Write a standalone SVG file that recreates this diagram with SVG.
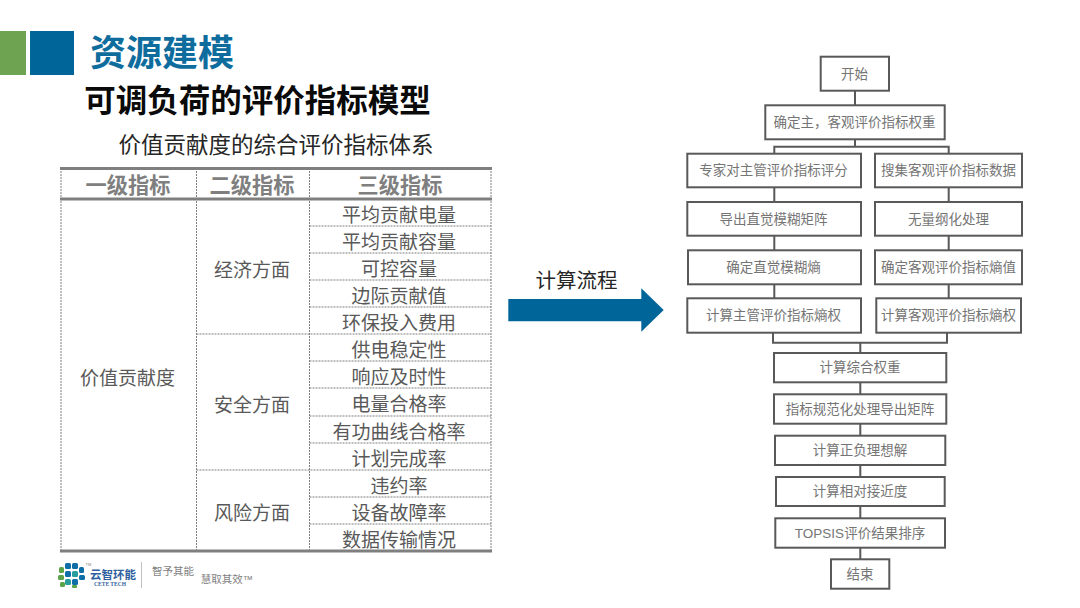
<svg xmlns="http://www.w3.org/2000/svg" width="1080" height="608" viewBox="0 0 1080 608">
<style>
text{font-family:"Liberation Sans","Noto Sans CJK SC",sans-serif;text-anchor:middle;dominant-baseline:central}
.b{fill:#fff;stroke:#595959;stroke-width:2}
.f{font-size:13.5px;fill:#757575}
.c{fill:none;stroke:#595959;stroke-width:2}
.d{fill:none;stroke:#7f7f7f;stroke-width:1;stroke-dasharray:2 1}
.t{fill:none;stroke:#7f7f7f;stroke-width:3}
.h{font-size:21.2px;font-weight:700;fill:#7f7f7f}
.r{font-size:19px;fill:#595959}
.k{fill:#0f6da8}.g{fill:#5aa348}.q{fill:#2a9d9d}
</style>
<rect width="1080" height="608" fill="#fff"/>
<g id="header">
<rect x="0" y="31" width="26" height="44" fill="#6ea351"/>
<rect x="30" y="31" width="44" height="44" fill="#006699"/>
<text x="162" y="53.500" font-size="36" font-weight="700" fill="#0f6d9e">资源建模</text>
<text x="257.500" y="100.500" font-size="31.500" font-weight="700" fill="#0a0a0a">可调负荷的评价指标模型</text>
<text x="276" y="145.500" font-size="22.500" fill="#262626">价值贡献度的综合评价指标体系</text>
</g>
<g id="table">
<path class="d" d="M61 168V551M196.500 168V551M309.500 168V551M491 168V551"/>
<path class="d" d="M309.500 226H491M309.500 253H491M309.500 280H491M309.500 307H491M196.500 334H491M309.500 361H491M309.500 388H491M309.500 416H491M309.500 443H491M196.500 470H491M309.500 497H491M309.500 524H491"/>
<path class="t" d="M60 168.500H492M60 199H492M60 551H492"/>
<text class="h" x="128" y="185.500">一级指标</text>
<text class="h" x="252" y="185.500">二级指标</text>
<text class="h" x="400" y="185.500">三级指标</text>
<text class="r" x="127.500" y="378">价值贡献度</text>
<text class="r" x="252" y="270">经济方面</text>
<text class="r" x="252" y="405">安全方面</text>
<text class="r" x="252" y="513">风险方面</text>
<text class="r" x="399" y="215">平均贡献电量</text>
<text class="r" x="399" y="242">平均贡献容量</text>
<text class="r" x="399" y="269">可控容量</text>
<text class="r" x="399" y="296">边际贡献值</text>
<text class="r" x="399" y="323">环保投入费用</text>
<text class="r" x="399" y="350">供电稳定性</text>
<text class="r" x="399" y="377">响应及时性</text>
<text class="r" x="399" y="404">电量合格率</text>
<text class="r" x="399" y="432">有功曲线合格率</text>
<text class="r" x="399" y="459">计划完成率</text>
<text class="r" x="399" y="486">违约率</text>
<text class="r" x="399" y="513">设备故障率</text>
<text class="r" x="399" y="540">数据传输情况</text>
</g>
<g id="logo">
<rect class="k" x="65" y="563" width="6" height="6" rx="1.500"/><rect class="k" x="72" y="563" width="6" height="6" rx="1.500"/>
<rect class="g" x="59" y="567" width="5" height="6" rx="1.500"/><rect class="k" x="79" y="567" width="5" height="6" rx="1.500"/>
<rect class="k" x="65" y="571" width="6" height="6" rx="1.500"/><rect class="q" x="72" y="571" width="6" height="6" rx="1.500"/>
<rect class="g" x="58" y="575" width="6" height="5" rx="1.500"/><rect class="k" x="79" y="575" width="6" height="5" rx="1.500"/>
<rect class="q" x="65" y="579" width="6" height="6" rx="1.500"/><rect class="k" x="72" y="579" width="6" height="6" rx="1.500"/>
<rect class="g" x="60" y="582" width="5" height="5" rx="1.500"/><rect class="g" x="72" y="585" width="5" height="3" rx="1"/>
<text x="113" y="574.500" font-size="11.500" font-weight="700" fill="#2f5f9e">云智环能</text>
<text x="110" y="584" font-size="5.500" font-weight="700" fill="#2f5f9e" style="font-family:'Liberation Serif',serif">CETE TECH</text>
<text x="88.500" y="564" font-size="4" fill="#7f7f7f">TM</text>
<path d="M141.500 562V588" stroke="#bfbfbf" fill="none"/>
<text x="173" y="570.500" font-size="10.500" fill="#7f7f7f">智予其能</text>
<text x="227" y="579" font-size="10.500" fill="#7f7f7f">慧取其效™</text>
</g>
<g id="arrow">
<text x="576.500" y="280" font-size="20.500" fill="#262626">计算流程</text>
<path d="M508.300 299H641.300V288.300L663.700 310L641.300 331.700V321.300H508.300Z" fill="#006699"/>
</g>
<g id="connectors">
<path class="c" d="M855 90.700V105.300M855 139.300V146.700M774.300 153.700V146.700H948.700V153.700"/>
<path class="c" d="M774.300 187.300V202M774.300 235.700V250.300M774.300 284.300V298.300M948.700 187.300V202M948.700 235.700V250.300M948.700 284.300V298.300"/>
<path class="c" d="M773 332.700V342.700H947V332.700M860.300 342.700V353M860.300 382.300V394.300M860.300 423.700V435.700M860.300 465V477M860.300 506V518.300M860.300 547.700V559.300"/>
</g>
<g id="n1"><rect class="b" x="820.700" y="56.700" width="68.300" height="34"/><text class="f" x="854.500" y="74">开始</text></g>
<g id="n2"><rect class="b" x="765.300" y="105.300" width="179.400" height="34"/><text class="f" x="854.500" y="122">确定主，客观评价指标权重</text></g>
<g id="n3"><rect class="b" x="687.300" y="153.700" width="173.700" height="33.600"/><text class="f" x="773.500" y="170.500">专家对主管评价指标评分</text></g>
<g id="n4"><rect class="b" x="875" y="153.700" width="147" height="33.600"/><text class="f" x="948.500" y="170.500">搜集客观评价指标数据</text></g>
<g id="n5"><rect class="b" x="687.300" y="202" width="173.700" height="33.700"/><text class="f" x="773.500" y="219">导出直觉模糊矩阵</text></g>
<g id="n6"><rect class="b" x="875" y="202" width="147" height="33.700"/><text class="f" x="948.500" y="219">无量纲化处理</text></g>
<g id="n7"><rect class="b" x="688" y="250.300" width="173" height="34"/><text class="f" x="773.500" y="267">确定直觉模糊熵</text></g>
<g id="n8"><rect class="b" x="875" y="250.300" width="147" height="34"/><text class="f" x="948.500" y="267">确定客观评价指标熵值</text></g>
<g id="n9"><rect class="b" x="687.300" y="298.300" width="173.700" height="34.400"/><text class="f" x="773.500" y="315.500">计算主管评价指标熵权</text></g>
<g id="n10"><rect class="b" x="876.300" y="298.300" width="144.700" height="34.400"/><text class="f" x="948.500" y="315.500">计算客观评价指标熵权</text></g>
<g id="n11"><rect class="b" x="774" y="353" width="172.300" height="29.300"/><text class="f" x="860" y="367.500">计算综合权重</text></g>
<g id="n12"><rect class="b" x="774" y="394.300" width="172.300" height="29.400"/><text class="f" x="860" y="409">指标规范化处理导出矩阵</text></g>
<g id="n13"><rect class="b" x="775" y="435.700" width="170.300" height="29.300"/><text class="f" x="860" y="450.500">计算正负理想解</text></g>
<g id="n14"><rect class="b" x="776" y="477" width="168.700" height="29"/><text class="f" x="860" y="491.500">计算相对接近度</text></g>
<g id="n15"><rect class="b" x="775.300" y="518.300" width="169.700" height="29.400"/><text class="f" x="860" y="533">TOPSIS评价结果排序</text></g>
<g id="n16"><rect class="b" x="831" y="559.300" width="58.300" height="29.400"/><text class="f" x="860" y="574">结束</text></g>
</svg>
